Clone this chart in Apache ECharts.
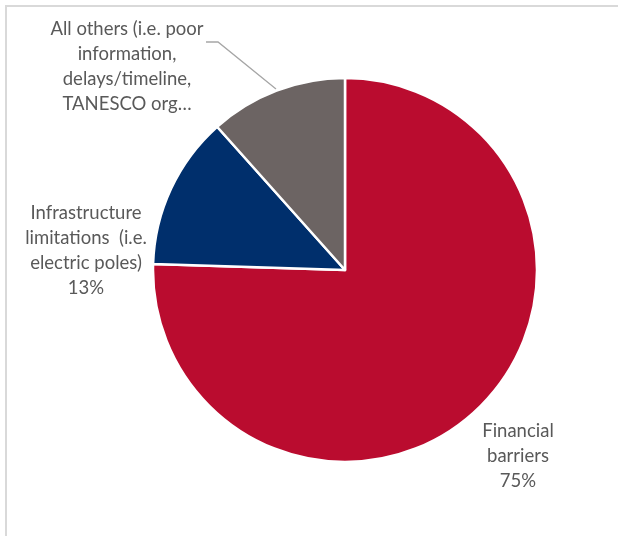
<!DOCTYPE html>
<html><head><meta charset="utf-8">
<script src="https://cdn.jsdelivr.net/npm/echarts@6/dist/echarts.min.js"></script>
<style>
html,body{margin:0;padding:0;background:#fff;}
#frame{position:absolute;left:5px;top:5px;width:640px;height:531px;border-left:2px solid #d9d9d9;border-top:2px solid #d9d9d9;box-sizing:border-box;}
#chart{position:absolute;left:0;top:0;width:618px;height:537px;}
</style></head>
<body>
<div id="frame"></div>
<div id="chart"></div>
<script>
var categories = ['Financial barriers', 'Infrastructure limitations (i.e. electric poles)', 'All others (i.e. poor information, delays/timeline, TANESCO org…'];
var values = [75.5, 12.9, 11.6];
var labelTexts = ['Financial\nbarriers\n75%', 'Infrastructure\nlimitations  (i.e.\nelectric poles)\n13%', 'All others (i.e. poor\ninformation,\ndelays/timeline,\nTANESCO org…'];
var colors = ['#ba0c2f', '#002f6c', '#6c6463'];
var labelPos = [[518, 456], [86, 251], [127, 67]];

var chart = echarts.init(document.getElementById('chart'), null, {renderer: 'canvas'});
var data = categories.map(function (c, i) {
  return {
    name: c,
    value: values[i],
    itemStyle: {color: colors[i]},
    label: {formatter: labelTexts[i]},
    labelLine: {show: i === 2}
  };
});
chart.setOption({
  animation: false,
  series: [{
    type: 'pie',
    center: [345, 270],
    radius: 192,
    startAngle: 90,
    clockwise: true,
    data: data,
    itemStyle: {borderColor: '#ffffff', borderWidth: 2.5},
    label: {
      show: true,
      position: 'outside',
      fontFamily: 'Lato, "Open Sans", sans-serif',
      fontSize: 18.5,
      lineHeight: 25,
      color: '#595959',
      align: 'center'
    },
    labelLine: {lineStyle: {color: '#a6a6a6', width: 1.3}, length: 10, length2: 10},
    labelLayout: function (p) {
      var i = p.dataIndex;
      var r = {x: labelPos[i][0], y: labelPos[i][1], align: 'center', verticalAlign: 'middle'};
      if (i === 2) {
        r.labelLinePoints = [[276, 89], [218, 42], [206, 42]];
      }
      return r;
    }
  }]
});
</script>
</body></html>
